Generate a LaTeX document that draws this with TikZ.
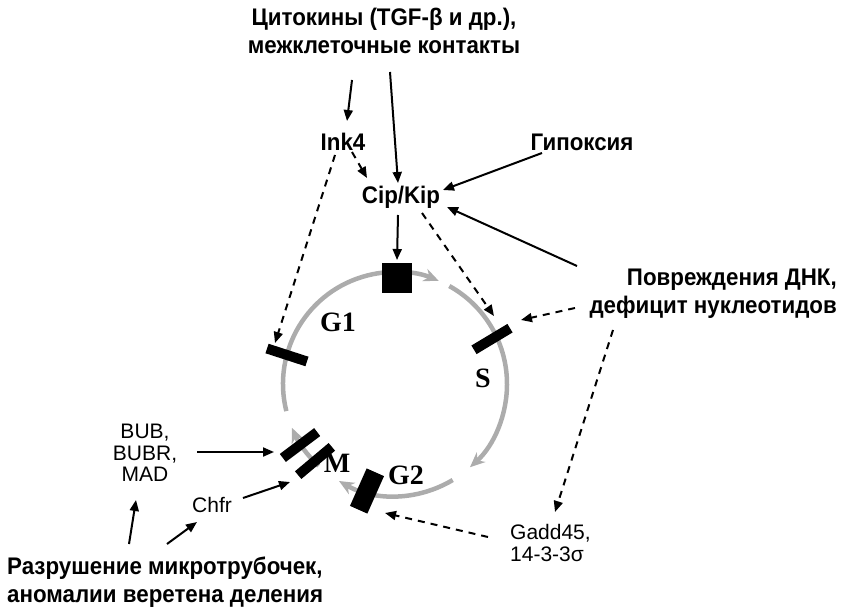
\documentclass[tikz,border=0pt]{standalone}
\usepackage{fontspec}
\setmainfont{Liberation Sans}
\newfontfamily\lab[FakeStretch=0.93]{Liberation Sans}
\newfontfamily\thinfont{Liberation Sans}
\newfontfamily\phasefont{Liberation Serif}
\usetikzlibrary{arrows.meta,calc}
\definecolor{cyccol}{RGB}{172,172,172}
\tikzset{
  txt/.style={font=\lab\bfseries\fontsize{24}{28}\selectfont, inner sep=0pt},
  thin/.style={font=\thinfont\fontsize{21}{21.5}\selectfont, inner sep=0pt},
  ph/.style={font=\phasefont\bfseries\fontsize{28}{28}\selectfont, inner sep=0pt},
  arr/.style={line width=2pt, -{Triangle[length=11pt,width=9pt]}},
  darr/.style={arr, dash pattern=on 7pt off 6pt},
  cyc/.style={line width=4.5pt, draw=cyccol, -{Stealth[length=15pt,width=13pt]}},
  bar/.style={fill=black, draw=none, inner sep=0pt, minimum width=42pt, minimum height=10pt},
}
\begin{document}
\begin{tikzpicture}[x=1pt,y=-1pt]
\useasboundingbox (0,0) rectangle (856,612);
\coordinate (C) at (395,384);
% cycle arcs
\draw[cyc] ($(C)+(-194:112)$) arc[start angle=-194, end angle=-67, radius=112];
\draw[cyc] ($(C)+(-61:112)$) arc[start angle=-61, end angle=48, radius=112];
\draw[cyc] ($(C)+(59:112)$) arc[start angle=59, end angle=120, radius=112];
\draw[cyc] ($(C)+(133:112)$) arc[start angle=133, end angle=157, radius=112];
% bars
\node[fill=black, minimum size=30pt, inner sep=0pt] (sq) at (397,278) {};
\node[bar, rotate=-18] (g1bar) at (287,355) {};
\node[bar, rotate=31] (sbar) at (492,339) {};
\node[bar, rotate=37, minimum width=43pt] (m1bar) at (300,445) {};
\node[bar, rotate=40, minimum width=44pt] (m2bar) at (315,461) {};
\node[bar, rotate=66, minimum width=41pt, minimum height=19pt] (g2bar) at (367,491) {};
% phase labels
\node[ph] (G1) at (338,322) {G1};
\node[ph] (S) at (483,378) {S};
\node[ph] (M) at (337,463) {M};
\node[ph] (G2) at (406,475) {G2};
% texts
\node[txt, align=center] (top) at (384,31) {Цитокины (TGF-β и др.),\\межклеточные контакты};
\node[txt] (ink4) at (343,142) {Ink4};
\node[txt] (cip) at (401,197) {Cip/Kip};
\node[txt] (hyp) at (582,142) {Гипоксия};
\node[txt, align=right, anchor=east] (dna) at (837,294) {Повреждения ДНК,\\дефицит нуклеотидов};
\node[thin, align=center] (bub) at (145,453) {BUB,\\BUBR,\\MAD};
\node[thin] (chfr) at (212,505) {Chfr};
\node[thin, align=left, anchor=west] (gadd) at (510,543) {Gadd45,\\14-3-3σ};
\node[txt, align=left, anchor=west] (micro) at (7,582) {Разрушение микротрубочек,\\аномалии веретена деления};
% connector ends
\coordinate (a1s) at (352,80);   \coordinate (a1e) at (347,121);
\coordinate (a2s) at (390,72);   \coordinate (a2e) at (398,183);
\coordinate (a3s) at (352,152);  \coordinate (a3e) at (367,178);
\coordinate (a4s) at (335,155);  \coordinate (a4e) at (275,343);
\coordinate (a5s) at (542,153);  \coordinate (a5e) at (443,190);
\coordinate (a6s) at (577,266);  \coordinate (a6e) at (447,207);
\coordinate (a7s) at (398,215);  \coordinate (a7e) at (397,260);
\coordinate (a8s) at (422,213);  \coordinate (a8e) at (494,316);
\coordinate (a9s) at (575,308);  \coordinate (a9e) at (521,320);
\coordinate (a10s) at (613,330); \coordinate (a10e) at (555,512);
\coordinate (a11s) at (488,537); \coordinate (a11e) at (385,513);
\coordinate (a12s) at (197,452); \coordinate (a12e) at (274,452);
\coordinate (a13s) at (243,498); \coordinate (a13e) at (290,482);
\coordinate (a14s) at (129,544); \coordinate (a14e) at (136,500);
\coordinate (a15s) at (167,544); \coordinate (a15e) at (197,522);
% connectors
\draw[arr] (a1s) -- (a1e);
\draw[arr] (a2s) -- (a2e);
\draw[darr] (a3s) -- (a3e);
\draw[darr] (a4s) -- (a4e);
\draw[arr] (a5s) -- (a5e);
\draw[arr] (a6s) -- (a6e);
\draw[arr] (a7s) -- (a7e);
\draw[darr] (a8s) -- (a8e);
\draw[darr] (a9s) -- (a9e);
\draw[darr] (a10s) -- (a10e);
\draw[darr] (a11s) -- (a11e);
\draw[arr] (a12s) -- (a12e);
\draw[arr] (a13s) -- (a13e);
\draw[arr] (a14s) -- (a14e);
\draw[arr] (a15s) -- (a15e);
\end{tikzpicture}
\end{document}
